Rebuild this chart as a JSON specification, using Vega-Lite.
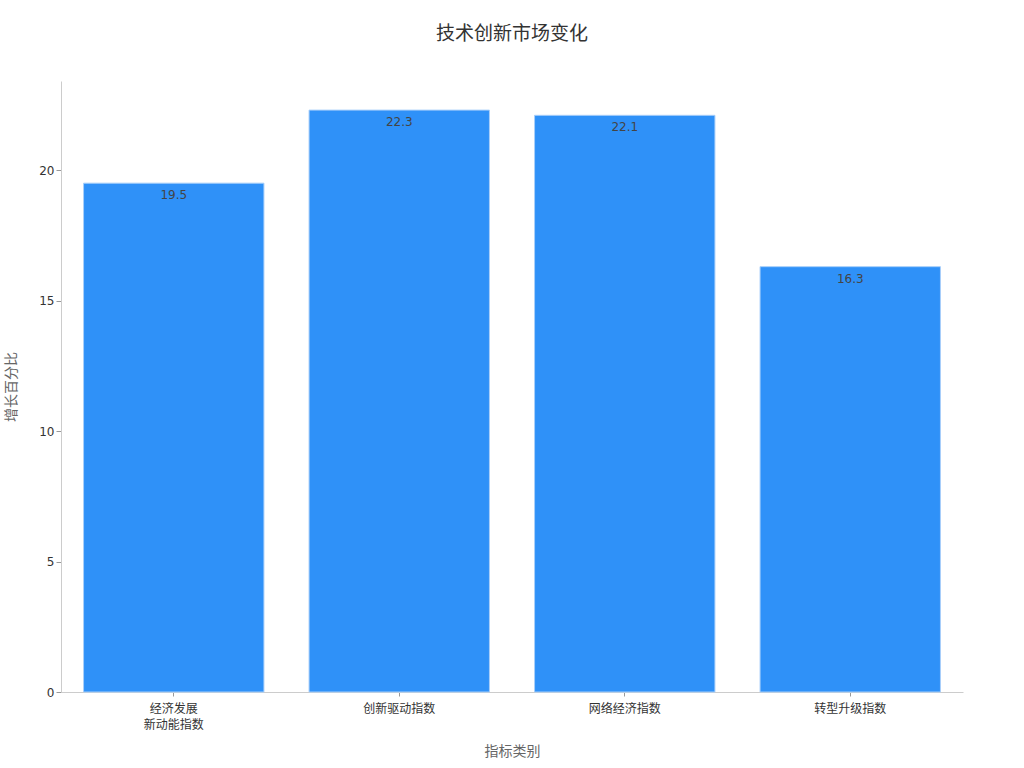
{
  "$schema": "https://vega.github.io/schema/vega-lite/v6.json",
  "autosize": "none",
  "width": 902,
  "height": 611,
  "padding": {"left": 61, "top": 81, "right": 61, "bottom": 76},
  "background": "white",
  "title": {
    "text": "技术创新市场变化",
    "fontSize": 19,
    "fontWeight": "normal",
    "color": "#333333",
    "anchor": "middle",
    "offset": 37
  },
  "config": {
    "font": "DejaVu Sans, Noto Sans CJK SC",
    "view": {"stroke": null}
  },
  "data": {
    "values": [
      {"category": "经济发展\n新动能指数", "value": 19.5},
      {"category": "创新驱动指数", "value": 22.3},
      {"category": "网络经济指数", "value": 22.1},
      {"category": "转型升级指数", "value": 16.3}
    ]
  },
  "encoding": {
    "x": {
      "field": "category",
      "type": "nominal",
      "sort": null,
      "scale": {"paddingInner": 0.2, "paddingOuter": 0.1},
      "axis": {
        "title": "指标类别",
        "titleFontSize": 14,
        "titleFontWeight": "normal",
        "titleColor": "#666666",
        "titlePadding": 14,
        "labelAngle": 0,
        "labelFontSize": 12,
        "labelLineHeight": 16,
        "labelColor": "#333333",
        "labelExpr": "split(datum.label, '\\n')",
        "labelPadding": 7,
        "tickColor": "#999999",
        "tickSize": 4,
        "domainColor": "#cccccc"
      }
    },
    "y": {
      "field": "value",
      "type": "quantitative",
      "scale": {"domain": [0, 23.415], "nice": false},
      "axis": {
        "title": "增长百分比",
        "titleFontSize": 14,
        "titleFontWeight": "normal",
        "titleColor": "#666666",
        "titlePadding": 20,
        "values": [0, 5, 10, 15, 20],
        "grid": false,
        "labelFontSize": 12,
        "labelColor": "#333333",
        "tickColor": "#999999",
        "tickSize": 5,
        "domainColor": "#cccccc"
      }
    }
  },
  "layer": [
    {
      "mark": {"type": "bar", "color": "#2f91f8", "stroke": "#a8cffa", "strokeWidth": 1}
    },
    {
      "mark": {"type": "text", "baseline": "top", "dy": 7, "fontSize": 12, "color": "#444444"},
      "encoding": {"text": {"field": "value", "type": "quantitative", "format": ".1f"}}
    }
  ]
}
